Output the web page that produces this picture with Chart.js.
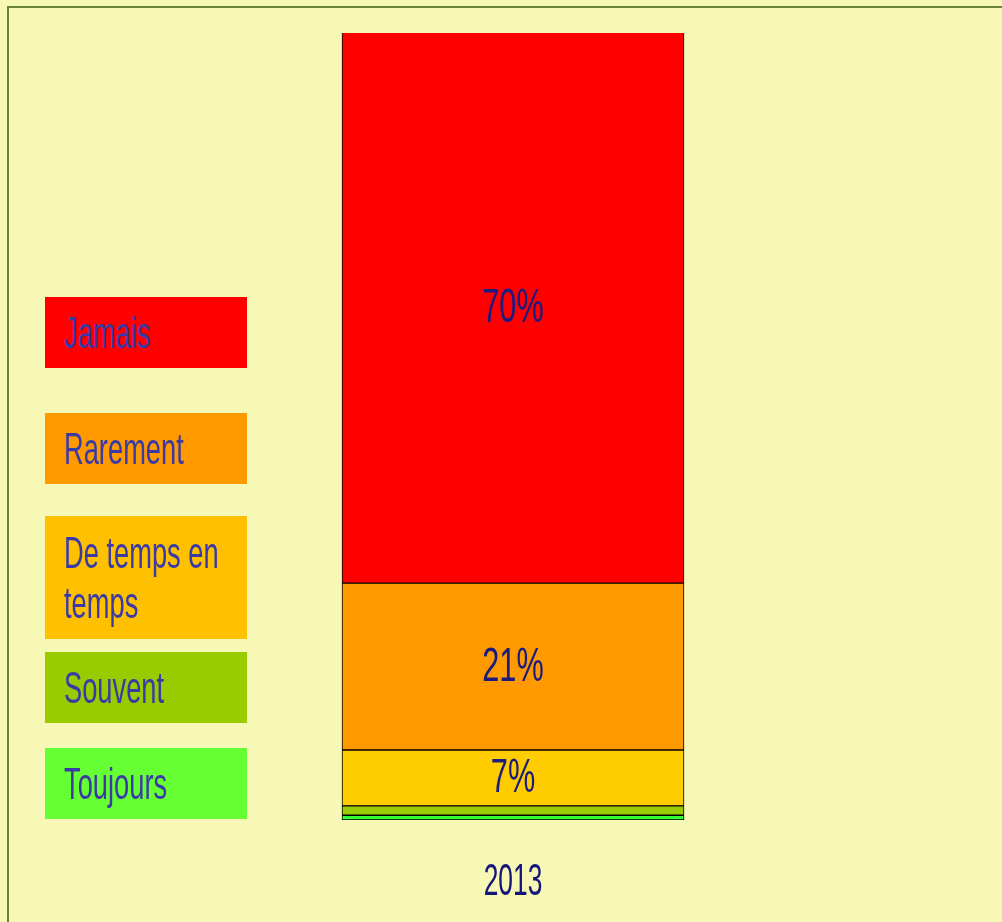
<!DOCTYPE html>
<html>
<head>
<meta charset="utf-8">
<script src="https://cdn.jsdelivr.net/npm/chart.js@4.4.0/dist/chart.umd.min.js"></script>
<style>
html, body { margin: 0; padding: 0; width: 1002px; height: 922px; overflow: hidden; background: #f7f7b6; }
#frame { position: absolute; left: 7px; top: 6px; width: 1100px; height: 1000px; border: 2px solid #6a8434; box-sizing: border-box; }
#chart { position: absolute; left: 0; top: 0; }
.lg { position: absolute; left: 45px; width: 202px; box-sizing: border-box; padding-left: 19px; display: flex; align-items: center; overflow: hidden; }
.lg span { display: block; width: 300px; flex: none; transform: scaleX(0.62); transform-origin: left center;
  font: 44px 'Liberation Sans Narrow', 'Liberation Sans', sans-serif; line-height: 50px; color: #3a3aa6; }
</style>
</head>
<body>
<div id="frame"></div>
<canvas id="chart" width="1002" height="922"></canvas>
<div id="legend"></div>
<script>
// données (de haut en bas, comme la légende)
const years = ['2013'];
const answers = ['Jamais', 'Rarement', 'De temps en temps', 'Souvent', 'Toujours'];
const shares = [[70.0], [21.2], [7.1], [1.2], [0.6]];
const barColors = ['#ff0000', '#ff9900', '#ffcc00', '#99cc00', '#33ff33'];
const legendColors = ['#ff0000', '#ff9900', '#ffc000', '#99cc00', '#66ff33'];

// position verticale des cases de légende (px)
const legendBoxes = [[297, 71], [413, 71], [516, 123], [652, 71], [748, 71]];

const FONT = '"Liberation Sans Narrow", "Liberation Sans", sans-serif';

function buildLegend() {
    const box = document.getElementById('legend');
    answers.forEach((name, i) => {
        const d = document.createElement('div');
        d.className = 'lg';
        d.style.top = legendBoxes[i][0] + 'px';
        d.style.height = legendBoxes[i][1] + 'px';
        d.style.background = legendColors[i];
        const s = document.createElement('span');
        s.textContent = name;
        d.appendChild(s);
        box.appendChild(d);
    });
}

// étiquettes dans les segments + année sous la barre
const segLabels = {
    id: 'segLabels',
    afterDatasetsDraw(chart) {
        const ctx = chart.ctx;
        ctx.save();
        ctx.textAlign = 'center';
        ctx.textBaseline = 'middle';
        ctx.font = '48px ' + FONT;
        ctx.fillStyle = '#1a1a80';
        chart.data.datasets.forEach((ds, i) => {
            chart.getDatasetMeta(i).data.forEach((bar, j) => {
                const v = ds.data[j];
                if (v < 5) return;
                ctx.save();
                ctx.translate(bar.x, (bar.y + bar.base) / 2 + 1);
                ctx.scale(0.64, 1);
                ctx.fillText(Math.round(v) + '%', 0, 0);
                ctx.restore();
            });
        });
        const xs = chart.scales.x;
        ctx.font = '44px ' + FONT;
        ctx.fillStyle = '#14147a';
        years.forEach((y, j) => {
            ctx.save();
            ctx.translate(xs.getPixelForValue(j), chart.chartArea.bottom + 63);
            ctx.scale(0.6, 1);
            ctx.fillText(y, 0, 0);
            ctx.restore();
        });
        ctx.restore();
    }
};

function renderChart() {
    const datasets = answers.map((name, i) => ({
        label: name,
        data: shares[i],
        backgroundColor: barColors[i],
        borderColor: '#000000',
        borderWidth: 1,
        borderSkipped: false,
        barThickness: 342
    })).reverse();

    new Chart(document.getElementById('chart'), {
        type: 'bar',
        data: { labels: years, datasets },
        options: {
            responsive: false,
            animation: false,
            layout: { padding: { top: 33, bottom: 102, left: 24, right: 0 } },
            scales: {
                x: { stacked: true, display: false },
                y: { stacked: true, display: false, min: 0, max: 100 }
            },
            plugins: {
                legend: { display: false },
                tooltip: { enabled: false }
            }
        },
        plugins: [segLabels]
    });
}

buildLegend();
renderChart();
</script>
</body>
</html>
